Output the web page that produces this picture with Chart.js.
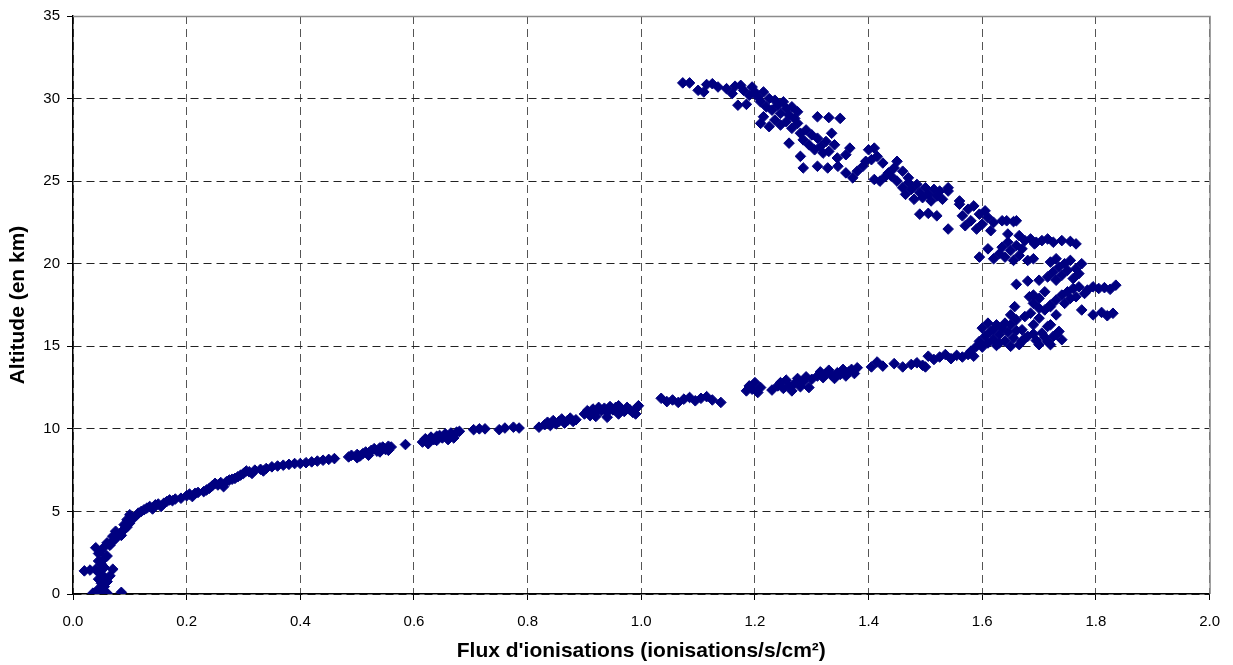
<!DOCTYPE html>
<html>
<head>
<meta charset="utf-8">
<script src="https://cdn.jsdelivr.net/npm/chart.js@4"></script>
<style>
  html, body { margin: 0; padding: 0; background: #ffffff; }
  #wrap { width: 1233px; height: 665px; position: relative; }
</style>
</head>
<body>
<div id="wrap"><canvas id="chart" width="1233" height="665"></canvas></div>
<script>
// Ionisation flux measured along the balloon ascent (ionisations/s/cm²)
const flux = [
  0.035, 0.05, 0.06, 0.085, 0.045, 0.055, 0.05, 0.06, 0.045, 0.055,
  0.065, 0.05, 0.02, 0.03, 0.04, 0.045, 0.055, 0.07, 0.05, 0.045,
  0.055, 0.06, 0.045, 0.05, 0.04, 0.055, 0.065, 0.06, 0.07, 0.075,
  0.07, 0.08, 0.085, 0.075, 0.09, 0.095, 0.09, 0.1, 0.095, 0.105,
  0.11, 0.1, 0.115, 0.12, 0.125, 0.13, 0.14, 0.135, 0.145, 0.15,
  0.155, 0.16, 0.165, 0.17, 0.175, 0.18, 0.19, 0.2, 0.205, 0.21,
  0.215, 0.22, 0.23, 0.235, 0.24, 0.245, 0.25, 0.255, 0.26, 0.265,
  0.27, 0.275, 0.28, 0.285, 0.29, 0.295, 0.3, 0.305, 0.31, 0.315,
  0.32, 0.33, 0.335, 0.34, 0.35, 0.36, 0.37, 0.38, 0.39, 0.4,
  0.41, 0.42, 0.43, 0.44, 0.45, 0.46,
  0.485, 0.49, 0.5, 0.505, 0.51, 0.515, 0.52, 0.525, 0.53, 0.535,
  0.54, 0.545, 0.55, 0.555, 0.56, 0.585, 0.615, 0.62, 0.625, 0.63,
  0.635, 0.64, 0.645, 0.65, 0.655, 0.66, 0.665, 0.67, 0.675, 0.68,
  0.705, 0.715, 0.725, 0.75, 0.76, 0.775, 0.785, 0.82, 0.83, 0.835,
  0.84, 0.845, 0.85, 0.855, 0.86, 0.865, 0.87, 0.875, 0.88, 0.885,
  0.9, 0.905, 0.91, 0.915, 0.92, 0.925, 0.93, 0.935, 0.94, 0.945,
  0.95, 0.955, 0.96, 0.965, 0.97, 0.975, 0.98, 0.985, 0.99, 0.995,
  1.035, 1.045, 1.055, 1.065, 1.075, 1.085, 1.095, 1.105, 1.115, 1.125,
  1.14, 1.185, 1.19, 1.195, 1.2, 1.205, 1.21, 1.23, 1.24, 1.245,
  1.25, 1.255, 1.26, 1.265, 1.27, 1.275, 1.28, 1.285, 1.29, 1.295,
  1.3, 1.31, 1.315, 1.32, 1.325, 1.33, 1.335, 1.34, 1.345, 1.35,
  1.355, 1.36, 1.365, 1.37, 1.375, 1.38, 1.405, 1.415, 1.425, 1.445,
  1.46, 1.475, 1.485, 1.495, 1.5, 1.505, 1.515, 1.525, 1.535, 1.545,
  1.555, 1.565, 1.575, 1.58, 1.585,
  1.59, 1.595, 1.6, 1.605, 1.61, 1.615, 1.62, 1.625, 1.63, 1.635,
  1.64, 1.645, 1.65, 1.655, 1.66, 1.665, 1.67, 1.675, 1.68, 1.685,
  1.69, 1.695, 1.7, 1.705, 1.71, 1.715, 1.72, 1.725, 1.73, 1.66,
  1.64, 1.62, 1.67, 1.69, 1.715, 1.735, 1.74, 1.6, 1.61, 1.625,
  1.72, 1.73, 1.72, 1.657, 1.683, 1.65, 1.69, 1.7,
  1.72, 1.73, 1.74, 1.745, 1.75, 1.755, 1.76, 1.765, 1.77, 1.775,
  1.78, 1.7, 1.71, 1.69, 1.66, 1.68, 1.7, 1.715, 1.725, 1.73,
  1.735, 1.74, 1.745, 1.75, 1.755, 1.76, 1.765, 1.77, 1.775, 1.72,
  1.73, 1.785, 1.795, 1.805, 1.815, 1.825, 1.835, 1.795, 1.81, 1.82,
  1.83,
  1.595, 1.61, 1.62, 1.63, 1.635, 1.64, 1.645, 1.65, 1.655, 1.66,
  1.665, 1.67, 1.675, 1.68, 1.69, 1.685, 1.695, 1.705, 1.715, 1.725,
  1.74, 1.755, 1.765, 1.692, 1.643, 1.66, 1.635, 1.655, 1.645, 1.665,
  1.56, 1.565, 1.57, 1.575, 1.58, 1.585, 1.59, 1.595, 1.6, 1.605,
  1.61, 1.615, 1.62, 1.54, 1.54, 1.54, 1.49, 1.505, 1.52, 1.56,
  1.45, 1.46, 1.465, 1.47, 1.475, 1.48, 1.485, 1.49, 1.495, 1.5,
  1.505, 1.51, 1.515, 1.52, 1.525, 1.53, 1.4, 1.41, 1.405, 1.415,
  1.425, 1.435, 1.445, 1.43, 1.41, 1.42, 1.45, 1.44, 1.46, 1.47,
  1.28, 1.285, 1.31, 1.328, 1.346, 1.345, 1.36, 1.367, 1.372, 1.38,
  1.39, 1.395, 1.36, 1.26, 1.285, 1.29, 1.295, 1.3, 1.305, 1.31,
  1.315, 1.32, 1.325, 1.33, 1.335, 1.34, 1.31, 1.33, 1.35, 1.28,
  1.21, 1.215, 1.225, 1.235, 1.245, 1.255, 1.265, 1.275, 1.27, 1.275,
  1.22, 1.225, 1.23, 1.235, 1.24, 1.245, 1.25, 1.255, 1.26, 1.265,
  1.17, 1.185, 1.205, 1.21, 1.215, 1.16, 1.165, 1.175, 1.18, 1.19,
  1.195, 1.2, 1.15, 1.135, 1.125, 1.115, 1.11, 1.1, 1.085, 1.073,
  0.5, 0.52, 0.54, 0.555, 0.625, 0.64, 0.66, 0.67, 0.92, 0.94,
  0.96, 0.99, 1.63, 1.65, 1.675, 1.7, 1.71, 0.065, 0.075, 0.085
];

// Altitude of each reading (km)
const altitude = [
  0.05, 0.1, 0.05, 0.1, 0.3, 0.45, 0.65, 0.75, 0.9, 1.0,
  1.1, 1.2, 1.4, 1.45, 1.5, 1.3, 1.6, 1.5, 1.8, 2.0,
  2.15, 2.3, 2.45, 2.6, 2.8, 2.85, 2.95, 3.1, 3.2, 3.35,
  3.5, 3.6, 3.75, 3.8, 3.9, 4.05, 4.2, 4.3, 4.5, 4.6,
  4.7, 4.8, 4.9, 5.0, 5.1, 5.2, 5.15, 5.3, 5.4, 5.45,
  5.3, 5.5, 5.6, 5.7, 5.65, 5.75, 5.8, 5.95, 6.05, 5.9,
  6.1, 6.15, 6.2, 6.3, 6.4, 6.55, 6.7, 6.6, 6.75, 6.5,
  6.8, 6.9, 6.95, 7.0, 7.1, 7.2, 7.3, 7.45, 7.4, 7.3,
  7.5, 7.55, 7.45, 7.6, 7.7, 7.75, 7.8, 7.85, 7.9, 7.9,
  7.95, 8.0, 8.05, 8.1, 8.15, 8.2,
  8.3, 8.4, 8.45, 8.35, 8.5, 8.6, 8.55, 8.7, 8.8, 8.65,
  8.85, 8.9, 8.75, 8.95, 8.9, 9.05, 9.2, 9.4, 9.3, 9.5,
  9.35, 9.55, 9.6, 9.45, 9.7, 9.5, 9.75, 9.6, 9.8, 9.85,
  9.95, 10.0, 10.0, 9.95, 10.05, 10.1, 10.05, 10.1, 10.25, 10.4,
  10.2, 10.5, 10.3, 10.45, 10.6, 10.35, 10.5, 10.65, 10.45, 10.55,
  10.9, 11.1, 10.8, 11.2, 11.0, 11.3, 11.1, 11.25, 11.0, 11.35,
  11.15, 11.3, 11.4, 11.2, 11.05, 11.3, 11.15, 11.0, 11.2, 11.4,
  11.85, 11.65, 11.75, 11.6, 11.8, 11.9, 11.7, 11.85, 11.95, 11.75,
  11.6, 12.3, 12.6, 12.4, 12.8, 12.2, 12.5, 12.35, 12.6, 12.8,
  12.45, 12.95, 12.6, 12.3, 12.75, 13.05, 12.55, 12.85, 13.15, 12.5,
  13.0, 13.2, 13.45, 13.1, 13.35, 13.55, 13.25, 13.05, 13.4, 13.3,
  13.6, 13.2, 13.45, 13.6, 13.35, 13.7, 13.75, 14.05, 13.8, 13.95,
  13.75, 13.9, 14.0, 13.85, 13.75, 14.4, 14.2, 14.35, 14.5, 14.25,
  14.45, 14.35, 14.5, 14.7, 14.4,
  15.0, 15.3, 14.95, 15.6, 15.2, 15.9, 15.4, 15.05, 15.7, 16.1,
  15.3, 15.85, 16.3, 15.5, 16.6, 15.1, 16.0, 16.8, 15.6, 17.0,
  16.3, 15.35, 16.7, 15.8, 17.2, 16.2, 17.4, 15.6, 16.9, 15.95,
  16.4, 16.0, 15.3, 15.75, 15.3, 15.9, 15.4, 16.1, 16.4, 16.3,
  15.1, 15.7, 16.3, 17.4, 18.0, 16.9, 17.6, 17.3,
  17.5, 17.8, 18.1, 17.6, 18.3, 17.9, 18.5, 18.0, 18.6, 17.2,
  18.2, 17.9, 18.3, 18.1, 18.75, 18.95, 19.0, 19.2, 19.5, 19.0,
  19.8, 19.3, 20.0, 19.6, 20.2, 19.1, 19.7, 19.4, 20.0, 20.1,
  20.3, 18.4, 18.6, 18.5, 18.55, 18.45, 18.7, 16.9, 17.05, 16.85,
  17.0,
  20.4, 20.9, 20.3, 20.6, 21.0, 20.4, 21.3, 20.8, 20.2, 21.1,
  20.5, 20.9, 21.4, 20.2, 20.3, 21.5, 21.3, 21.4, 21.5, 21.3,
  21.4, 21.35, 21.2, 21.2, 22.6, 22.6, 22.6, 22.55, 21.8, 21.7,
  23.8, 22.9, 22.3, 23.3, 22.6, 23.5, 22.1, 23.0, 22.4, 23.2,
  22.8, 22.0, 22.5, 22.1, 24.4, 24.6, 23.0, 23.05, 22.9, 23.6,
  25.0, 24.6, 24.2, 25.2, 24.5, 23.9, 24.8, 24.3, 24.0, 24.6,
  24.2, 23.8, 24.5, 24.1, 24.4, 23.9, 26.9, 27.0, 26.3, 26.5,
  26.1, 25.5, 25.8, 25.3, 25.1, 25.0, 26.2, 25.3, 25.6, 24.9,
  26.5, 25.8, 25.9, 25.8, 25.9, 26.4, 26.6, 27.0, 25.2, 25.6,
  25.9, 26.2, 25.5, 27.3, 27.5, 28.1, 27.2, 27.8, 26.9, 27.6,
  27.1, 26.7, 27.4, 26.8, 27.9, 27.2, 28.9, 28.85, 28.8, 27.9,
  28.5, 28.9, 28.3, 28.7, 28.4, 28.6, 28.2, 28.5, 28.8, 29.2,
  29.5, 30.0, 29.3, 29.9, 29.6, 29.1, 29.8, 29.4, 29.0, 29.5,
  29.6, 29.65, 30.1, 29.8, 30.4, 30.3, 30.75, 30.8, 30.5, 30.2,
  30.7, 30.4, 30.6, 30.7, 30.9, 30.85, 30.4, 30.5, 30.95, 30.95,
  8.25, 8.4, 8.6, 8.7, 9.1, 9.3, 9.35, 9.45, 10.75, 10.7,
  10.9, 10.9, 15.2, 15.0, 15.5, 15.1, 15.55, 3.0, 3.4, 3.55
];

// Axis tick values
const fluxTicks = [0.0, 0.2, 0.4, 0.6, 0.8, 1.0, 1.2, 1.4, 1.6, 1.8, 2.0];
const altitudeTicks = [0, 5, 10, 15, 20, 25, 30, 35];

const xTitle = "Flux d'ionisations (ionisations/s/cm²)";
const yTitle = "Altitude (en km)";

const points = flux.map((x, i) => ({ x: x, y: altitude[i] }));

const FONT = "'Liberation Sans', Arial, Helvetica, sans-serif";

// Solid grey frame on the top and right edges of the plot area
const plotFrame = {
  id: 'plotFrame',
  afterDraw(chart) {
    const { ctx, chartArea: a } = chart;
    ctx.save();
    ctx.strokeStyle = '#8c8c8c';
    ctx.lineWidth = 1.5;
    ctx.beginPath();
    ctx.moveTo(a.left, a.top + 0.5);
    ctx.lineTo(a.right + 0.5, a.top + 0.5);
    ctx.lineTo(a.right + 0.5, a.bottom);
    ctx.stroke();
    ctx.restore();
  }
};

new Chart(document.getElementById('chart'), {
  type: 'scatter',
  data: {
    datasets: [{
      data: points,
      pointStyle: 'rectRot',
      pointRadius: 5.3,
      pointHoverRadius: 5.3,
      backgroundColor: '#000080',
      borderColor: '#000080',
      borderWidth: 1
    }]
  },
  options: {
    responsive: false,
    animation: false,
    devicePixelRatio: 1,
    events: [],
    layout: { padding: { left: 0, top: 14, right: 23, bottom: 0 } },
    plugins: { legend: { display: false }, tooltip: { enabled: false } },
    scales: {
      x: {
        type: 'linear',
        min: 0,
        max: 2,
        afterBuildTicks: s => { s.ticks = fluxTicks.map(v => ({ value: v })); },
        afterFit: s => { s.height = 71; },
        ticks: {
          color: '#000',
          font: { family: FONT, size: 15 },
          padding: 13,
          maxRotation: 0,
          callback: v => Number(v).toFixed(1)
        },
        grid: {
          color: '#555',
          lineWidth: 1,
          tickLength: 6,
          tickColor: '#000',
          tickBorderDash: []
        },
        border: { display: true, color: '#000', width: 1.5, dash: [8, 5] },
        title: {
          display: true,
          text: xTitle,
          color: '#000',
          font: { family: FONT, size: 21, weight: 'bold' },
          padding: { top: 0, bottom: 1 }
        }
      },
      y: {
        type: 'linear',
        min: 0,
        max: 35,
        afterBuildTicks: s => { s.ticks = altitudeTicks.map(v => ({ value: v })); },
        afterFit: s => { s.width = 73; },
        ticks: {
          color: '#000',
          font: { family: FONT, size: 15 },
          padding: 7,
          callback: v => String(v)
        },
        grid: {
          color: '#222',
          lineWidth: 1,
          tickLength: 6,
          tickColor: '#000',
          tickBorderDash: []
        },
        border: { display: true, color: '#000', width: 1.5, dash: [8, 5] },
        title: {
          display: true,
          text: yTitle,
          color: '#000',
          font: { family: FONT, size: 21, weight: 'bold' },
          padding: { top: 6, bottom: 0 }
        }
      }
    }
  },
  plugins: [plotFrame]
});
</script>
</body>
</html>
